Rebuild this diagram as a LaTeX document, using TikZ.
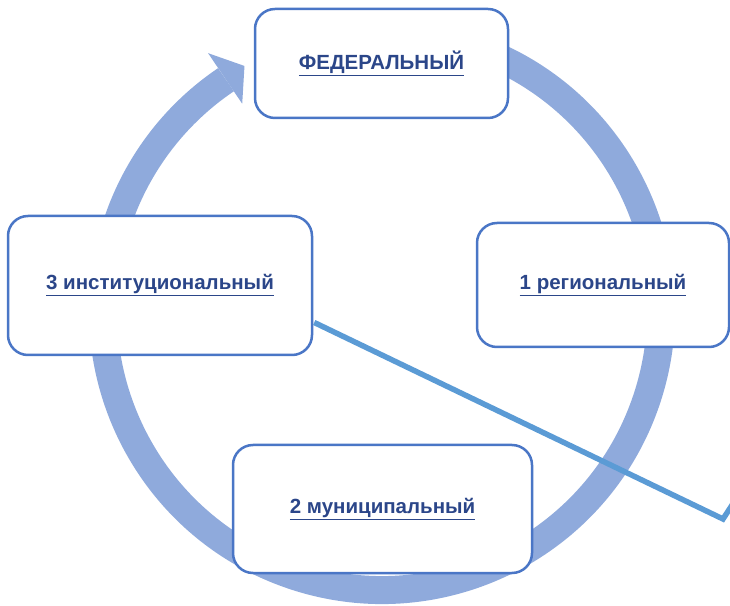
\documentclass[tikz,border=0pt]{standalone}
\usepackage{fontspec}
\setmainfont{Liberation Sans}
\usetikzlibrary{calc}
\definecolor{ringc}{HTML}{8FAADC}
\definecolor{boxc}{HTML}{4A76C6}
\definecolor{txtc}{HTML}{2B4689}
\definecolor{linec}{HTML}{5B9BD5}
\newcommand{\ulbox}[1]{\underline{#1}}
\begin{document}
\begin{tikzpicture}[x=1pt,y=1pt,
  levelbox/.style={draw=boxc, line width=2.5pt, fill=white, rounded corners=20pt,
    inner sep=0pt, align=center, text=txtc,
    font=\fontsize{20.5}{24}\selectfont\bfseries},
  ringarc/.style={draw=ringc, line width=28pt},
  linkline/.style={draw=linec, line width=5.5pt, line join=miter}]
\useasboundingbox (0,0) rectangle (730,605);
\clip (0,0) rectangle (730,605);
% ring with arrow
\coordinate (c) at (382,294);
\draw[ringarc] ($(c)+(70:279)$) arc[start angle=70, end angle=-236, radius=279];
\fill[ringc] ($(c)+(124:250)$) -- ($(c)+(119.3:281)$) -- ($(c)+(124:311)$) -- cycle;
% boxes
\node[levelbox, minimum width=253pt, minimum height=109pt] (fed) at (381.5,541.5) {\ulbox{ФЕДЕРАЛЬНЫЙ}};
\node[levelbox, minimum width=304pt, minimum height=139pt] (inst) at (160,319.5) {\ulbox{3 институциональный}};
\node[levelbox, minimum width=252pt, minimum height=124pt] (reg) at (603,320) {\ulbox{1 региональный}};
\node[levelbox, minimum width=299pt, minimum height=128pt] (mun) at (382.5,96) {\ulbox{2 муниципальный}};
% line
\coordinate (v) at (723,86);
\coordinate (e) at (736,106);
\draw[linkline] ([yshift=-37pt,xshift=1pt]inst.east) -- (v) -- (e);
\end{tikzpicture}
\end{document}
